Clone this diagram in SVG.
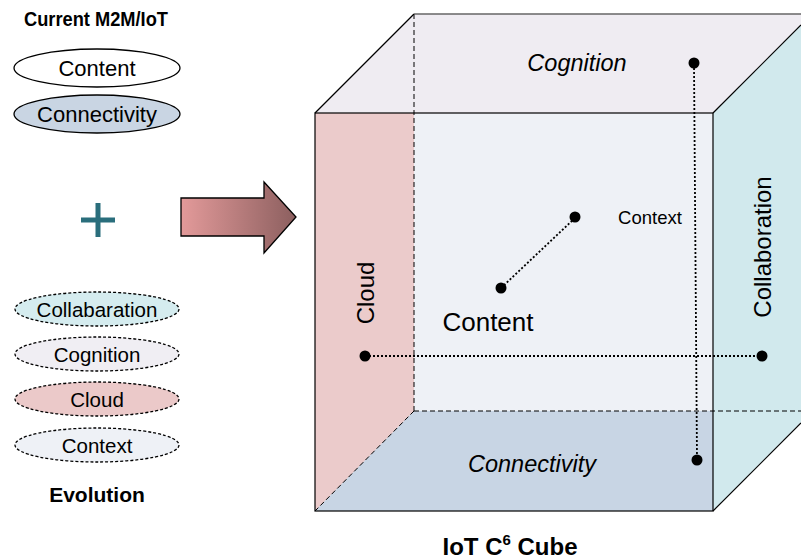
<svg xmlns="http://www.w3.org/2000/svg" width="801" height="560" viewBox="0 0 801 560">
<defs>
<linearGradient id="arrowGrad" x1="0" y1="0" x2="1" y2="0">
<stop offset="0" stop-color="#E39A9A"/>
<stop offset="1" stop-color="#8C5F5F"/>
</linearGradient>
</defs>
<style>
text{font-family:"Liberation Sans",Arial,sans-serif;fill:#000}
.b{font-weight:bold}
.ell{stroke:#000;stroke-width:1.3}
.dash{stroke-dasharray:3,2}
.edge{stroke:#000;stroke-width:1.2;fill:none}
.back{stroke:#000;stroke-width:1;fill:none;stroke-dasharray:5,3}
.dot{stroke:#000;stroke-width:1.8;fill:none;stroke-dasharray:2,2}
.pt{fill:#000}
</style>
<rect width="801" height="560" fill="#fff"/>
<g id="current">
<text class="b" x="24" y="26" font-size="21" textLength="144" lengthAdjust="spacingAndGlyphs">Current M2M/IoT</text>
</g>
<g id="content-ellipse">
<ellipse class="ell" cx="97" cy="68" rx="83" ry="19" fill="#fff"/>
<text x="97" y="75.5" font-size="22" text-anchor="middle">Content</text>
</g>
<g id="connectivity-ellipse">
<ellipse class="ell" cx="97" cy="114" rx="83" ry="19" fill="#C9D5E3"/>
<text x="97" y="121.5" font-size="22" text-anchor="middle">Connectivity</text>
</g>
<g id="plus">
<rect x="81" y="217.5" width="34" height="5" fill="#2A6E7C"/>
<rect x="95.5" y="203" width="5" height="34" fill="#2A6E7C"/>
</g>
<g id="collab-ellipse">
<ellipse class="ell dash" cx="97" cy="309" rx="82" ry="17" fill="#D5ECEF"/>
<text x="97" y="316.5" font-size="20.5" text-anchor="middle">Collabaration</text>
</g>
<g id="cognition-ellipse">
<ellipse class="ell dash" cx="97" cy="354" rx="82" ry="17" fill="#F0EEF3"/>
<text x="97" y="361.5" font-size="20.5" text-anchor="middle">Cognition</text>
</g>
<g id="cloud-ellipse">
<ellipse class="ell dash" cx="97" cy="399" rx="82" ry="17" fill="#EBC9C9"/>
<text x="97" y="406.5" font-size="20.5" text-anchor="middle">Cloud</text>
</g>
<g id="context-ellipse">
<ellipse class="ell dash" cx="97" cy="445" rx="82" ry="17" fill="#EEF1F6"/>
<text x="97" y="452.5" font-size="20.5" text-anchor="middle">Context</text>
</g>
<g id="evolution">
<text class="b" x="97" y="501.5" font-size="21" text-anchor="middle">Evolution</text>
</g>
<g id="arrow">
<polygon points="181,198 264,198 264,182 296,217 264,253 264,236 181,236" fill="url(#arrowGrad)" stroke="#000" stroke-width="1.3"/>
</g>
<g id="cube">
<polygon points="414,14 812,14 812,411 414,411" fill="#EEF0F6"/>
<polygon points="315,113 414,14 414,411 315,511" fill="#EBCBCB"/>
<polygon points="315,113 414,14 812,14 713,113" fill="#EFECF2"/>
<polygon points="315,511 414,411 812,411 713,511" fill="#C8D5E4"/>
<polygon points="713,113 812,14 812,411 713,511" fill="#D1E9ED"/>
<polygon points="414,113 713,113 713,411 414,411" fill="#EEF1F6"/>
<polygon points="315,113 414,113 414,411 315,511" fill="#EBCBCB"/>
<polygon points="315,511 414,411 713,411 713,511" fill="#C8D5E4"/>
<line class="back" x1="414" y1="14" x2="414" y2="411"/>
<line class="back" x1="414" y1="411" x2="801" y2="411"/>
<line class="back" x1="414" y1="411" x2="315" y2="511"/>
<line x1="414" y1="14" x2="801" y2="14" stroke="#666" stroke-width="1.5"/>
<line class="edge" x1="315" y1="113" x2="414" y2="14"/>
<line class="edge" x1="713" y1="113" x2="801" y2="25"/>
<line class="edge" x1="713" y1="511" x2="801" y2="423"/>
<rect class="edge" x="315" y="113" width="398" height="398"/>
</g>
<g id="connectors">
<line class="dot" x1="694" y1="64" x2="697" y2="460"/>
<line class="dot" x1="365" y1="356" x2="762" y2="356"/>
<line class="dot" x1="501" y1="288" x2="575" y2="218"/>
</g>
<g id="points">
<circle class="pt" cx="694" cy="63" r="5.5"/>
<circle class="pt" cx="697" cy="460" r="5.5"/>
<circle class="pt" cx="365" cy="356" r="5.5"/>
<circle class="pt" cx="762" cy="356" r="5.5"/>
<circle class="pt" cx="575" cy="217" r="5.5"/>
<circle class="pt" cx="501" cy="288" r="5.5"/>
</g>
<g id="labels">
<text x="577" y="71" font-size="23.5" font-style="italic" text-anchor="middle">Cognition</text>
<text x="532" y="472" font-size="23.5" font-style="italic" text-anchor="middle">Connectivity</text>
<text x="488" y="331" font-size="26" text-anchor="middle">Content</text>
<text x="650" y="223.5" font-size="18.5" text-anchor="middle">Context</text>
<text transform="translate(373.5,293) rotate(-90)" font-size="24" text-anchor="middle">Cloud</text>
<text transform="translate(770.5,247) rotate(-90)" font-size="24" text-anchor="middle">Collaboration</text>
</g>
<g id="title">
<text class="b" x="510" y="555" font-size="24" text-anchor="middle">IoT C<tspan font-size="15" dy="-10">6</tspan><tspan dy="10"> Cube</tspan></text>
</g>
</svg>
